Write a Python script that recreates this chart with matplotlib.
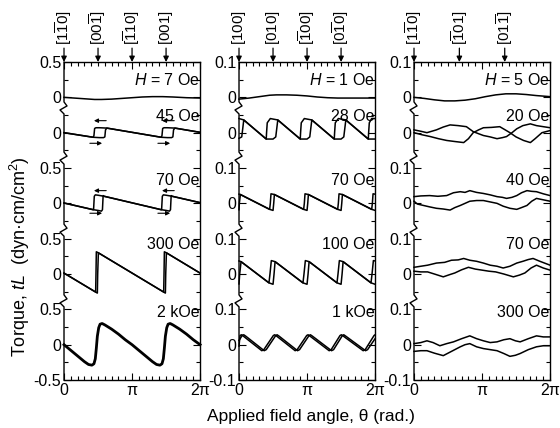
import numpy as np
import matplotlib
matplotlib.use("Agg")
import matplotlib.pyplot as plt
from matplotlib.transforms import blended_transform_factory

plt.rcParams['font.family'] = ['Liberation Sans', 'DejaVu Sans']
plt.rcParams['mathtext.fontset'] = 'custom'
plt.rcParams['mathtext.rm'] = 'Liberation Sans'
plt.rcParams['mathtext.it'] = 'Liberation Sans:italic'

# angles are in units of pi, torque values relative to each curve's own zero

# ---- panel 1 : (110) plane ----
P1_H7_X = [0, 0.15, 0.3, 0.45, 0.55, 0.7, 0.85, 1.0, 1.15, 1.3, 1.45, 1.6, 1.8, 2.0]
P1_H7_Y = [0.0, -0.01, -0.02, -0.03, -0.03, -0.025, -0.015, -0.005, 0.005, 0.01,
           0.01, 0.005, -0.005, -0.01]

P1_45_FWD_X = [0, 0.43, 0.52, 0.58, 0.6, 0.61, 0.63, 1.43, 1.52, 1.58, 1.6, 1.61, 1.63, 2.0]
P1_45_FWD_Y = [0, -0.065, -0.07, -0.07, -0.06, 0.04, 0.065, -0.065, -0.07, -0.07,
               -0.06, 0.04, 0.065, 0.005]
P1_45_BWD_X = [2.0, 1.63, 1.52, 1.47, 1.45, 1.44, 1.43, 0.63, 0.52, 0.47, 0.45, 0.44, 0.43, 0]
P1_45_BWD_Y = [0.005, 0.065, 0.07, 0.07, 0.06, -0.04, -0.065, 0.065, 0.07, 0.07,
               0.06, -0.04, -0.065, 0]

P1_70_FWD_X = [0, 0.43, 0.5, 0.55, 0.565, 0.575, 0.59, 1.43, 1.5, 1.55, 1.565, 1.575, 1.59, 2.0]
P1_70_FWD_Y = [0.005, -0.09, -0.1, -0.11, -0.09, 0.11, 0.10, -0.09, -0.1, -0.11,
               -0.09, 0.11, 0.10, 0.01]
P1_70_BWD_X = [2.0, 1.59, 1.5, 1.46, 1.445, 1.435, 1.43, 0.59, 0.5, 0.46, 0.445, 0.435, 0.43, 0]
P1_70_BWD_Y = [0.01, 0.10, 0.115, 0.12, 0.1, -0.08, -0.09, 0.10, 0.115, 0.12,
               0.1, -0.08, -0.09, 0.005]

P1_300_FWD_X = [0, 0.49, 0.495, 0.505, 1.49, 1.495, 1.505, 2.0]
P1_300_FWD_Y = [0.013, -0.27, 0.0, 0.30, -0.27, 0.0, 0.30, 0.013]
P1_300_BWD_X = [2.0, 1.505, 1.475, 1.47, 1.465, 0.505, 0.475, 0.47, 0.465, 0]
P1_300_BWD_Y = [0.013, 0.30, 0.315, 0.0, -0.255, 0.30, 0.315, 0.0, -0.255, 0.013]

P1_2K_X = [0, 0.1, 0.2, 0.3, 0.36, 0.41, 0.44, 0.46, 0.475, 0.49, 0.51, 0.53, 0.56, 0.6,
           0.7, 0.8, 0.9, 1.0, 1.1, 1.2, 1.3, 1.36, 1.41, 1.44, 1.46, 1.475, 1.49, 1.51,
           1.53, 1.56, 1.6, 1.7, 1.8, 1.9, 2.0]
P1_2K_Y = [0, -0.08, -0.16, -0.24, -0.28, -0.29, -0.27, -0.2, -0.05, 0.12, 0.24, 0.29,
           0.30, 0.28, 0.22, 0.15, 0.07, 0.0, -0.08, -0.16, -0.24, -0.28, -0.29, -0.27,
           -0.2, -0.05, 0.12, 0.24, 0.29, 0.30, 0.28, 0.22, 0.15, 0.07, 0.0]

# ---- panel 2 : (001) plane ----
P2_H1_X = [0, 0.15, 0.3, 0.45, 0.55, 0.7, 0.85, 1.0, 1.15, 1.3, 1.45, 1.6, 1.8, 2.0]
P2_H1_Y = [-0.005, -0.002, 0.002, 0.006, 0.007, 0.007, 0.006, 0.004, 0.001, -0.001,
           -0.002, -0.002, -0.002, -0.002]

P2_28_FWD_X = [0, 0.04, 0.055, 0.07, 0.40, 0.50, 0.54, 0.555, 0.57, 0.90, 1.00, 1.04,
               1.055, 1.07, 1.40, 1.50, 1.54, 1.555, 1.57, 1.90, 2.0]
P2_28_FWD_Y = [-0.016, -0.012, 0.012, 0.036, -0.018, -0.018, -0.012, 0.012, 0.036,
               -0.018, -0.018, -0.012, 0.012, 0.036, -0.018, -0.018, -0.012, 0.012,
               0.036, -0.018, -0.018]
P2_28_BWD_X = [2.0, 1.95, 1.915, 1.905, 1.90, 1.57, 1.46, 1.415, 1.405, 1.40, 1.07, 0.96,
               0.915, 0.905, 0.90, 0.57, 0.46, 0.415, 0.405, 0.40, 0.07, 0]
P2_28_BWD_Y = [0.04, 0.04, 0.028, 0.0, -0.018, 0.036, 0.04, 0.028, 0.0, -0.018, 0.036,
               0.04, 0.028, 0.0, -0.018, 0.036, 0.04, 0.028, 0.0, -0.018, 0.036, 0.04]

P2_70_FWD_X = [0, 0.005, 0.02, 0.45, 0.50, 0.51, 0.52, 0.95, 1.00, 1.01, 1.02, 1.45,
               1.50, 1.51, 1.52, 1.95, 2.0]
P2_70_FWD_Y = [-0.018, 0.0, 0.025, -0.017, -0.02, 0.0, 0.025, -0.017, -0.02, 0.0, 0.025,
               -0.017, -0.02, 0.0, 0.025, -0.017, -0.02]
P2_70_BWD_X = [2.0, 1.97, 1.96, 1.95, 1.52, 1.47, 1.46, 1.45, 1.02, 0.97, 0.96, 0.95,
               0.52, 0.47, 0.46, 0.45, 0.02, 0]
P2_70_BWD_Y = [0.026, 0.027, 0.0, -0.017, 0.025, 0.027, 0.0, -0.017, 0.025, 0.027, 0.0,
               -0.017, 0.025, 0.027, 0.0, -0.017, 0.025, 0.026]

P2_100_FWD_X = [0, 0.01, 0.03, 0.44, 0.50, 0.515, 0.53, 0.94, 1.00, 1.015, 1.03, 1.44,
                1.50, 1.515, 1.53, 1.94, 2.0]
P2_100_FWD_Y = [-0.028, 0.0, 0.035, -0.025, -0.029, 0.0, 0.035, -0.025, -0.029, 0.0,
                0.035, -0.025, -0.029, 0.0, 0.035, -0.025, -0.029]
P2_100_BWD_X = [2.0, 1.975, 1.955, 1.94, 1.53, 1.475, 1.455, 1.44, 1.03, 0.975, 0.955,
                0.94, 0.53, 0.475, 0.455, 0.44, 0.03, 0]
P2_100_BWD_Y = [0.037, 0.038, 0.0, -0.025, 0.035, 0.038, 0.0, -0.025, 0.035, 0.038, 0.0,
                -0.025, 0.035, 0.038, 0.0, -0.025, 0.035, 0.037]

P2_1K_A_X = [0, 0.05, 0.07, 0.10, 0.37, 0.40, 0.54, 0.56, 0.59, 0.86, 0.89, 1.03, 1.05,
             1.08, 1.36, 1.39, 1.52, 1.54, 1.57, 1.86, 1.89, 2.0]
P2_1K_A_Y = [0.012, 0.027, 0.028, 0.024, -0.017, -0.014, 0.026, 0.028, 0.024, -0.017,
             -0.014, 0.026, 0.028, 0.024, -0.017, -0.014, 0.026, 0.028, 0.024, -0.017,
             -0.014, 0.017]
P2_1K_B_X = [0, 0.015, 0.035, 0.065, 0.335, 0.365, 0.505, 0.525, 0.555, 0.825, 0.855,
             0.995, 1.015, 1.045, 1.325, 1.355, 1.485, 1.505, 1.535, 1.825, 1.855, 1.985, 2.0]
P2_1K_B_Y = [-0.004, 0.026, 0.028, 0.024, -0.017, -0.014, 0.026, 0.028, 0.024, -0.017,
             -0.014, 0.026, 0.028, 0.024, -0.017, -0.014, 0.026, 0.028, 0.024, -0.017,
             -0.014, 0.026, 0.028]

# ---- panel 3 : (111) plane ----
P3_H5_X = [0, 0.15, 0.3, 0.45, 0.6, 0.75, 0.9, 1.05, 1.2, 1.35, 1.5, 1.65, 1.8, 2.0]
P3_H5_Y = [0.0, -0.003, -0.007, -0.01, -0.01, -0.008, -0.004, 0.002, 0.007, 0.01, 0.01,
           0.008, 0.005, 0.002]

P3_20_A_X = [0, 0.1, 0.19, 0.26, 0.33, 0.43, 0.53, 0.65, 0.77, 0.87, 0.95, 1.02, 1.12,
             1.22, 1.3, 1.36, 1.44, 1.51, 1.6, 1.71, 1.8, 1.9, 2.0]
P3_20_A_Y = [0.008, 0.004, 0.0, 0.004, 0.008, 0.016, 0.022, 0.02, 0.017, 0.003, -0.003,
             -0.008, -0.012, -0.017, -0.014, -0.011, 0.0, 0.011, 0.02, 0.025, 0.02, 0.017,
             0.014]
P3_20_B_X = [0, 0.12, 0.24, 0.36, 0.48, 0.6, 0.73, 0.8, 0.87, 0.95, 1.02, 1.14, 1.26,
             1.34, 1.41, 1.5, 1.61, 1.71, 1.78, 1.88, 2.0]
P3_20_B_Y = [0.0, -0.006, -0.011, -0.017, -0.022, -0.025, -0.028, -0.017, 0.0, 0.008,
             0.014, 0.015, 0.017, 0.008, 0.0, -0.012, -0.022, -0.028, -0.017, 0.0, 0.006]

P3_40_A_X = [0, 0.1, 0.23, 0.35, 0.48, 0.58, 0.68, 0.75, 0.82, 0.92, 1.02, 1.12, 1.22,
             1.3, 1.36, 1.44, 1.51, 1.58, 1.66, 1.73, 1.8, 1.9, 2.0]
P3_40_A_Y = [0.019, 0.021, 0.022, 0.02, 0.022, 0.03, 0.033, 0.031, 0.036, 0.031, 0.028,
             0.024, 0.019, 0.017, 0.014, 0.017, 0.022, 0.03, 0.036, 0.034, 0.033, 0.027,
             0.022]
P3_40_B_X = [0, 0.05, 0.14, 0.23, 0.33, 0.43, 0.53, 0.6, 0.68, 0.75, 0.82, 0.92, 1.02,
             1.12, 1.22, 1.31, 1.41, 1.51, 1.58, 1.66, 1.73, 1.8, 1.9, 2.0]
P3_40_B_Y = [0.006, -0.002, -0.006, -0.01, -0.014, -0.016, -0.019, -0.012, -0.006, 0.0,
             0.006, 0.008, 0.008, 0.004, 0.0, -0.008, -0.014, -0.017, -0.012, -0.006,
             0.006, 0.014, 0.01, 0.006]

P3_70_A_X = [0, 0.1, 0.2, 0.33, 0.45, 0.55, 0.65, 0.73, 0.82, 0.92, 1.02, 1.12, 1.22,
             1.31, 1.41, 1.51, 1.6, 1.68, 1.75, 1.85, 2.0]
P3_70_A_Y = [0.019, 0.022, 0.025, 0.031, 0.033, 0.039, 0.04, 0.044, 0.039, 0.036, 0.031,
             0.025, 0.022, 0.017, 0.022, 0.031, 0.036, 0.041, 0.044, 0.036, 0.025]
P3_70_B_X = [0, 0.1, 0.2, 0.3, 0.43, 0.52, 0.6, 0.7, 0.8, 0.9, 1.0, 1.1, 1.2, 1.32, 1.46,
             1.55, 1.63, 1.72, 1.8, 1.9, 2.0]
P3_70_B_Y = [0.008, 0.006, 0.006, 0.0, -0.008, -0.002, 0.003, 0.012, 0.019, 0.014, 0.011,
             0.008, 0.006, 0.0, -0.008, -0.003, 0.003, 0.017, 0.025, 0.017, 0.011]

P3_300_A_X = [0, 0.1, 0.19, 0.28, 0.38, 0.48, 0.58, 0.7, 0.82, 0.92, 1.02, 1.12, 1.22,
              1.32, 1.41, 1.49, 1.56, 1.68, 1.8, 1.9, 2.0]
P3_300_A_Y = [0.003, 0.006, 0.011, 0.006, -0.003, 0.003, 0.008, 0.017, 0.025, 0.017,
              0.011, 0.006, 0.008, 0.014, 0.017, 0.011, 0.008, 0.017, 0.025, 0.022, 0.022]
P3_300_B_X = [0, 0.1, 0.19, 0.3, 0.43, 0.55, 0.68, 0.75, 0.82, 0.92, 1.02, 1.12, 1.22,
              1.32, 1.41, 1.49, 1.56, 1.68, 1.8, 1.9, 2.0]
P3_300_B_Y = [-0.019, -0.017, -0.017, -0.024, -0.031, -0.019, -0.006, 0.0, 0.003, -0.006,
              -0.011, -0.014, -0.017, -0.025, -0.033, -0.03, -0.025, -0.014, -0.006,
              -0.003, -0.003]

# curve zero levels (stacking) and labels
P1_OFFSETS = [3.5, 3.0, 2.0, 1.0, 0.0]
P23_OFFSETS = [0.7, 0.6, 0.4, 0.2, 0.0]
P1_FIELDS = [r'$H$ = 7 Oe', '45 Oe', '70 Oe', '300 Oe', '2 kOe']
P2_FIELDS = [r'$H$ = 1 Oe', '28 Oe', '70 Oe', '100 Oe', '1 kOe']
P3_FIELDS = [r'$H$ = 5 Oe', '20 Oe', '40 Oe', '70 Oe', '300 Oe']

P1_DIR_X = [0, 0.5, 1.0, 1.5]
P1_DIR_LBL = [r'$[1\overline{1}0]$', r'$[00\overline{1}]$', r'$[\overline{1}10]$', r'$[001]$']
P2_DIR_X = [0, 0.5, 1.0, 1.5]
P2_DIR_LBL = [r'$[100]$', r'$[010]$', r'$[\overline{1}00]$', r'$[0\overline{1}0]$']
P3_DIR_X = [0, 2 / 3, 4 / 3]
P3_DIR_LBL = [r'$[1\overline{1}0]$', r'$[\overline{1}01]$', r'$[01\overline{1}]$']

P1_YTICK_LBL = ['-0.5', '0', '0.5', '0', '0.5', '0', '0.5', '0', '0', '0.5']
P23_YTICK_LBL = ['-0.1', '0', '0.1', '0', '0.1', '0', '0.1', '0', '0', '0.1']

# sweep-direction arrows drawn at the hysteresis loops (45 Oe and 70 Oe, panel 1)
LOOP_CENTERS = [0.5, 1.5]


def left_spine(ax, breaks, yscale):
    """left axis line with small zigzag break marks"""
    tr = blended_transform_factory(ax.transAxes, ax.transData)
    dx = 1 / 136
    y0, y1 = ax.get_ylim()
    xs, ys = [0], [y0]
    for b in breaks:
        xs += [0, -4 * dx, 3 * dx, 0]
        ys += [b - 6 * yscale, b - 2 * yscale, b + 2 * yscale, b + 6 * yscale]
    xs.append(0)
    ys.append(y1)
    ax.plot(xs, ys, transform=tr, clip_on=False, color='k', lw=1.0)


def setup(ax, scale, fields, dir_x, dir_lbl, ytick_lbl):
    ax.set_xlim(0, 2)
    ax.set_ylim(-0.5 * scale, 4.0 * scale)
    ax.set_xticks([0, 1, 2])
    ax.set_xticklabels(['0', 'π', '2π'])
    ax.set_xticks(np.arange(0, 2.01, 0.1), minor=True)
    ax.set_yticks(np.arange(-0.5, 4.01, 0.5) * scale)
    ax.set_yticklabels(ytick_lbl)
    ax.set_yticks(np.arange(-0.5, 4.01, 0.25) * scale, minor=True)
    ax.tick_params(which='both', direction='in', top=True, right=True,
                   labelsize=11.5, width=0.8, pad=2)
    ax.tick_params(which='major', length=5)
    ax.tick_params(which='minor', length=3)
    for s in ax.spines.values():
        s.set_linewidth(1.0)
    ax.spines['left'].set_visible(False)
    left_spine(ax, [b * scale for b in [0.62, 1.62, 2.64, 3.35]], scale * 4.5 / 318)

    for f, fy in zip(fields, [0.943, 0.830, 0.626, 0.425, 0.211]):
        ax.text(0.995, fy, f, transform=ax.transAxes, ha='right', va='center',
                fontsize=11.5)
    for x, lbl in zip(dir_x, dir_lbl):
        ax.annotate(lbl, xy=(x, 1), xycoords=('data', 'axes fraction'),
                    xytext=(0, 12), textcoords='offset points', rotation=90,
                    ha='center', va='bottom', fontsize=11, annotation_clip=False,
                    arrowprops=dict(arrowstyle='-|>', color='k', lw=0.9,
                                    shrinkA=0, shrinkB=0, mutation_scale=8))


def draw(ax, x, y, off, lw=1.1):
    ax.plot(np.array(x), np.array(y) + off, color='k', lw=lw, clip_on=False)


fig = plt.figure(figsize=(5.6, 4.28), dpi=100)
ax1 = fig.add_axes([0.1143, 0.1121, 0.243, 0.743])
ax2 = fig.add_axes([0.4268, 0.1121, 0.243, 0.743])
ax3 = fig.add_axes([0.7393, 0.1121, 0.243, 0.743])

# panel 1
o = P1_OFFSETS
draw(ax1, P1_H7_X, P1_H7_Y, o[0])
draw(ax1, P1_45_FWD_X, P1_45_FWD_Y, o[1])
draw(ax1, P1_45_BWD_X, P1_45_BWD_Y, o[1])
draw(ax1, P1_70_FWD_X, P1_70_FWD_Y, o[2])
draw(ax1, P1_70_BWD_X, P1_70_BWD_Y, o[2])
draw(ax1, P1_300_FWD_X, P1_300_FWD_Y, o[3])
draw(ax1, P1_300_BWD_X, P1_300_BWD_Y, o[3])
draw(ax1, P1_2K_X, P1_2K_Y, o[4], lw=2.0)
for c in LOOP_CENTERS:
    for off, top, bot in [(o[1], 0.17, -0.15), (o[2], 0.18, -0.14)]:
        ax1.annotate('', xy=(c - 0.06, off + top), xytext=(c + 0.12, off + top),
                     arrowprops=dict(arrowstyle='-|>', color='k', lw=0.8,
                                     shrinkA=0, shrinkB=0, mutation_scale=6))
        ax1.annotate('', xy=(c + 0.06, off + bot), xytext=(c - 0.12, off + bot),
                     arrowprops=dict(arrowstyle='-|>', color='k', lw=0.8,
                                     shrinkA=0, shrinkB=0, mutation_scale=6))
setup(ax1, 1.0, P1_FIELDS, P1_DIR_X, P1_DIR_LBL, P1_YTICK_LBL)

# panel 2
o = P23_OFFSETS
draw(ax2, P2_H1_X, P2_H1_Y, o[0])
draw(ax2, P2_28_FWD_X, P2_28_FWD_Y, o[1])
draw(ax2, P2_28_BWD_X, P2_28_BWD_Y, o[1])
draw(ax2, P2_70_FWD_X, P2_70_FWD_Y, o[2])
draw(ax2, P2_70_BWD_X, P2_70_BWD_Y, o[2])
draw(ax2, P2_100_FWD_X, P2_100_FWD_Y, o[3])
draw(ax2, P2_100_BWD_X, P2_100_BWD_Y, o[3])
draw(ax2, P2_1K_A_X, P2_1K_A_Y, o[4])
draw(ax2, P2_1K_B_X, P2_1K_B_Y, o[4])
setup(ax2, 0.2, P2_FIELDS, P2_DIR_X, P2_DIR_LBL, P23_YTICK_LBL)

# panel 3
draw(ax3, P3_H5_X, P3_H5_Y, o[0])
draw(ax3, P3_20_A_X, P3_20_A_Y, o[1])
draw(ax3, P3_20_B_X, P3_20_B_Y, o[1])
draw(ax3, P3_40_A_X, P3_40_A_Y, o[2])
draw(ax3, P3_40_B_X, P3_40_B_Y, o[2])
draw(ax3, P3_70_A_X, P3_70_A_Y, o[3])
draw(ax3, P3_70_B_X, P3_70_B_Y, o[3])
draw(ax3, P3_300_A_X, P3_300_A_Y, o[4])
draw(ax3, P3_300_B_X, P3_300_B_Y, o[4])
setup(ax3, 0.2, P3_FIELDS, P3_DIR_X, P3_DIR_LBL, P23_YTICK_LBL)

fig.text(0.036, 0.40, r'Torque, $tL$  (dyn·cm/cm$^2$)', rotation=90,
         ha='center', va='center', fontsize=13)
fig.text(0.555, 0.026, 'Applied field angle, θ (rad.)', ha='center', va='center',
         fontsize=12.5)

fig.savefig('out.png', dpi=100)
